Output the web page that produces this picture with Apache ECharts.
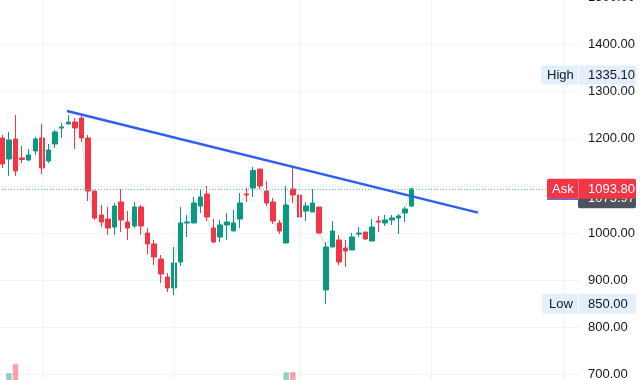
<!DOCTYPE html>
<html><head><meta charset="utf-8">
<script src="https://cdn.jsdelivr.net/npm/echarts/dist/echarts.min.js"></script>
<style>html,body{margin:0;padding:0;background:#fff}#c{width:640px;height:380px}</style>
</head><body><div id="c"></div>
<script>
// ---- data ----
const opens  = [1201.7,1157.2,1199.6,1159.3,1155.0,1174.1,1201.7,1152.9,1189.0,1222.9,1231.4,1235.6,1244.1,
  1201.7,1089.3,1038.4,1029.9,1012.9,1066.0,1023.5,1015.1,1055.4,1000.2,976.9,945.1,906.9,
  883.6,938.7,1021.4,1021.4,1057.5,1082.9,1010.8,991.7,1017.2,1004.5,1029.9,1082.9,1095.6,
  1135.9,1089.3,1066.0,1021.4,979.0,1093.5,1080.8,1046.9,1044.8,1055.4,879.3,970.5,985.4,
  968.4,964.2,998.1,1002.3,983.2,1025.6,1021.4,1027.8,1032.0,1042.6,1057.5];
const closes = [1146.6,1197.5,1131.8,1156.1,1165.6,1199.6,1138.1,1176.3,1214.4,1225.0,1235.6,1222.9,1201.7,
  1089.3,1032.0,1023.5,1010.8,1057.5,1027.8,1010.8,1055.4,1015.1,976.9,949.3,913.3,883.6,
  936.6,1021.4,1023.5,1063.8,1076.6,1034.1,981.1,1017.2,1023.5,1021.4,1063.8,1080.8,1132.8,
  1099.9,1063.8,1025.6,1004.5,1059.6,1080.8,1034.1,1057.5,1063.8,1000.2,970.5,1004.5,938.7,
  962.0,991.7,1000.2,987.5,1012.9,1023.5,1027.8,1032.0,1036.3,1051.1,1093.8];
const lows   = [1138.1,1121.1,1121.1,1148.7,1153.0,1165.6,1125.4,1148.7,1180.5,1201.7,1231.4,1178.4,1193.2,
  1068.1,1027.8,1012.9,996.0,996.0,1002.3,985.4,1010.8,996.0,955.7,932.3,894.2,875.1,
  868.7,930.2,991.7,1021.4,1042.6,1025.6,979.0,981.1,985.4,1004.5,1010.8,1066.0,1076.6,
  1093.5,1057.5,1019.3,998.1,979.0,1063.8,1021.4,1025.6,1044.8,998.1,850.0,970.5,932.3,
  928.1,964.2,991.7,985.4,983.2,1002.3,1015.1,1017.2,998.1,1023.5,1055.4];
const highs  = [1208.0,1214.4,1250.5,1184.7,1178.4,1203.8,1231.4,1189.0,1218.7,1233.5,1250.5,1244.1,1248.4,
  1208.1,1089.3,1059.6,1055.4,1063.8,1093.5,1046.9,1066.0,1059.6,1010.8,985.4,953.5,915.4,
  970.5,1055.4,1038.4,1076.6,1093.5,1099.9,1029.9,1027.8,1042.6,1049.0,1085.1,1095.6,1140.2,
  1135.9,1110.5,1074.4,1027.8,1099.9,1140.2,1089.3,1066.0,1093.5,1055.4,981.1,1025.6,996.0,
  985.4,1000.2,1012.9,1002.3,1029.9,1036.3,1038.4,1038.4,1040.5,1055.4,1095.6];
// only the volume bars that rise into view can be read; others are left empty
const volumes = [null,103,122,null,null,null,null,null,null,null,null,null,null,
  null,null,null,null,null,null,null,null,null,null,null,null,null,
  null,null,null,null,null,null,null,null,null,null,null,null,null,
  null,null,null,null,105,105,null,null,null,null,null,null,null,
  null,null,null,null,null,null,null,null,null,null,null];
const slotCount = 88;                        // bar slots across the plot (incl. empty right margin)
const gridBarSlots = ['6','26','45','65','85']; // vertical grid lines (period starts)
const trendX = [9.8, 72.05];
const trendY = [1259.0, 1043.5];
const yTickStep = 100;
const askPrice = 1093.80;
const lastPrice = 1075.97;
const highPrice = 1335.10;
const lowPrice = 850.00;

const categories = [];
for (let i = 0; i < slotCount; i++) categories.push(String(i));
const candles = opens.map((o, i) => [o, closes[i], lows[i], highs[i]]);

const UP = '#089981', DOWN = '#f23645';
const FONT = 'Liberation Sans';

const chart = echarts.init(document.getElementById('c'), null, {renderer: 'canvas'});
chart.setOption({
  animation: false,
  backgroundColor: '#ffffff',
  grid: {left: -1, width: 581, top: -49.8, height: 471.5, containLabel: false, outerBoundsMode: 'none'},
  xAxis: [
    {type: 'category', data: categories, boundaryGap: true,
     axisLine: {show: false}, axisTick: {show: false}, axisLabel: {show: false}, splitLine: {show: false}},
    {type: 'value', min: -0.5, max: slotCount - 0.5, show: false}
  ],
  yAxis: [
    {type: 'value', position: 'right', min: 600, max: 1600, interval: yTickStep,
     axisLine: {show: false}, axisTick: {show: false},
     axisLabel: {color: '#131722', fontSize: 13, fontFamily: FONT, margin: 8,
                 formatter: v => v.toFixed(2)},
     splitLine: {lineStyle: {color: '#f0f3fa', width: 1}}},
    {type: 'value', min: 0, max: 1000, show: false, splitLine: {show: false}}
  ],
  series: [
    {type: 'line', data: closes, symbol: 'none', z: 1,
     lineStyle: {color: '#e3e6ec', width: 1.5},
     markLine: {silent: true, symbol: 'none', label: {show: false},
       lineStyle: {color: '#f0f3fa', width: 1, type: 'solid'},
       data: gridBarSlots.map(s => ({xAxis: s}))}},
    {type: 'bar', yAxisIndex: 1, data: volumes, barWidth: 5.5, z: 2,
     itemStyle: {color: p => closes[p.dataIndex] >= opens[p.dataIndex] ? 'rgba(8,153,129,0.45)' : 'rgba(242,54,69,0.45)'}},
    {type: 'candlestick', data: candles, barWidth: 5, z: 3,
     itemStyle: {color: UP, color0: DOWN, borderColor: UP, borderColor0: DOWN, borderWidth: 1},
     markLine: {silent: true, symbol: 'none', label: {show: false},
       lineStyle: {color: '#5fbfb2', width: 1, type: [1, 2]},
       data: [{yAxis: askPrice}]}},
    {type: 'line', xAxisIndex: 1, yAxisIndex: 0, data: trendX.map((x, i) => [x, trendY[i]]),
     symbol: 'none', z: 5, lineStyle: {color: '#2f5ff0', width: 2.5}}
  ]
});

const py = v => chart.convertToPixel({yAxisIndex: 0}, v);
function box(x, y, w, h, fill, z) {
  return {type: 'rect', z: z, shape: {x: x, y: y, width: w, height: h, r: 2}, style: {fill: fill}};
}
function txt(x, y, s, color, z) {
  return {type: 'text', z: z, x: x, y: y,
    style: {text: s, fill: color, font: '13px "' + FONT + '"', textVerticalAlign: 'middle', textAlign: 'left'}};
}
const yH = py(highPrice), yL = py(lowPrice), yA = py(askPrice), yP = py(lastPrice);
const g = [];
// High
g.push(box(541, yH - 9.5, 95, 19, '#e3effd', 10));
g.push({type: 'rect', z: 11, shape: {x: 578, y: yH - 9.5, width: 1, height: 19}, style: {fill: '#ffffff'}});
g.push(txt(547, yH + 0.5, 'High', '#131722', 12));
g.push(txt(588, yH + 0.5, highPrice.toFixed(2), '#131722', 12));
// Low
g.push(box(542, yL - 10, 94, 20, '#e3effd', 10));
g.push({type: 'rect', z: 11, shape: {x: 578, y: yL - 10, width: 1, height: 20}, style: {fill: '#ffffff'}});
g.push(txt(549, yL + 0.5, 'Low', '#131722', 12));
g.push(txt(588, yL + 0.5, lowPrice.toFixed(2), '#131722', 12));
// last price (mostly hidden)
g.push(box(578, yP - 9, 58, 20, '#4c525e', 20));
g.push(txt(588, yP + 1, lastPrice.toFixed(2), '#ffffff', 21));
g.push({type: 'rect', z: 20, shape: {x: 547, y: yA + 9.5, width: 31, height: 1.5}, style: {fill: '#2f5ff0'}});
// Ask
g.push(box(547, yA - 10, 89, 20, '#f23645', 30));
g.push({type: 'rect', z: 31, shape: {x: 578, y: yA - 10, width: 1, height: 20}, style: {fill: '#f7737d'}});
g.push(txt(552, yA + 0.5, 'Ask', '#ffffff', 32));
g.push(txt(588, yA + 0.5, askPrice.toFixed(2), '#ffffff', 32));
chart.setOption({graphic: g});
</script>
</body></html>
